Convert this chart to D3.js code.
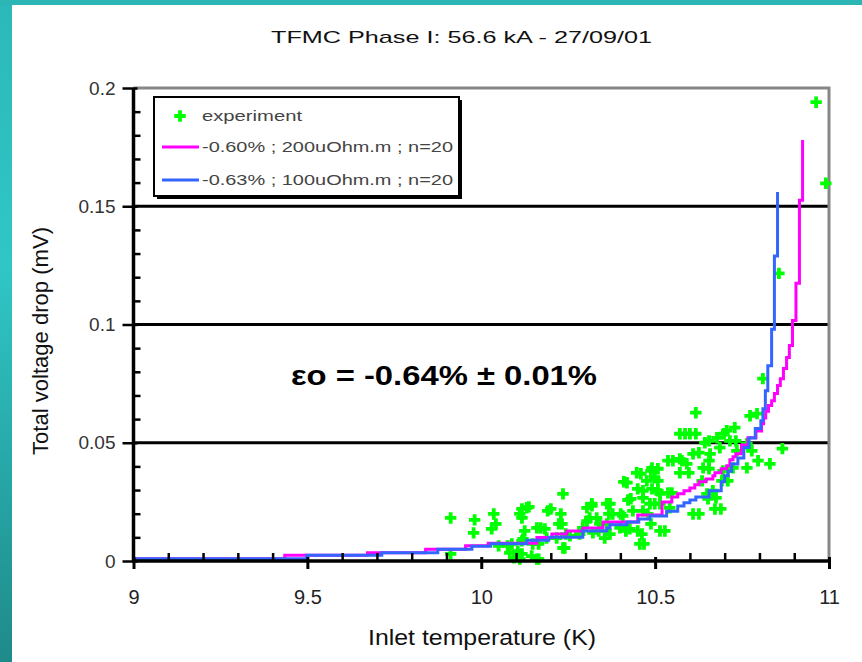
<!DOCTYPE html>
<html>
<head>
<meta charset="utf-8">
<script src="https://cdn.jsdelivr.net/npm/d3@7"></script>
<style>
  body { margin: 0; background: #fff; }
  svg { display: block; }
</style>
</head>
<body>
<div id="chart"></div>
<script>
'use strict';

// measured points: [inlet temperature (K), total voltage drop (mV)]
var experiment = [
    [9.912,0.0182],[9.912,0.003],[9.981,0.0174],[9.978,0.0119],[10.036,0.0199],[10.042,0.0157],
    [10.03,0.0136],[10.05,0.0064],[10.088,0.0072],[10.094,0.0013],[10.117,0.022],[10.137,0.0229],
    [10.117,0.0182],[10.125,0.0127],[10.117,0.0085],[10.117,0.003],[10.145,0.0021],[10.165,0.0008],
    [10.165,0.0072],[10.171,0.014],[10.2,0.022],[10.235,0.0284],[10.229,0.0199],[10.223,0.0157],
    [10.243,0.0114],[10.24,0.0055],[10.255,0.0106],[10.283,0.0114],[10.318,0.0233],[10.332,0.0182],
    [10.338,0.0127],[10.37,0.0242],[10.367,0.0199],[10.361,0.0157],[10.37,0.0114],[10.401,0.0199],
    [10.419,0.0331],[10.43,0.0263],[10.416,0.0127],[10.45,0.0127],[10.459,0.0369],[10.468,0.0072],
    [10.465,0.0297],[10.488,0.0381],[10.508,0.039],[10.508,0.0339],[10.508,0.0297],[10.499,0.0242],
    [10.479,0.0199],[10.488,0.0157],[10.528,0.0127],[10.548,0.0288],[10.551,0.0424],[10.577,0.0424],
    [10.586,0.0538],[10.617,0.0538],[10.617,0.0627],[10.597,0.0373],[10.626,0.0458],[10.626,0.0199],
    [10.655,0.0424],[10.655,0.039],[10.655,0.0508],[10.666,0.0297],[10.675,0.0267],[10.689,0.022],
    [10.698,0.0538],[10.709,0.0381],[10.709,0.0339],[10.729,0.0564],[10.732,0.0508],[10.764,0.0496],
    [10.764,0.0394],[10.778,0.0466],[10.793,0.0623],[10.796,0.0424],[10.83,0.0411],[10.866,0.0475],
    [10.963,0.194],[10.991,0.1597],[10.856,0.1216],[10.81,0.0771],[10.773,0.0614],
    [10.571,0.0538],[10.6,0.0538],[10.609,0.0453],[10.537,0.0424],[10.571,0.0432],[10.591,0.0411],
    [10.571,0.0373],[10.447,0.0373],[10.491,0.0394],[10.499,0.0352],[10.476,0.0339],[10.41,0.0335],
    [10.45,0.0305],[10.491,0.0305],[10.514,0.0284],[10.537,0.0288],[10.465,0.0267],[10.422,0.0258],
    [10.485,0.0242],[10.514,0.0242],[10.542,0.0225],[10.436,0.0212],[10.465,0.0212],[10.378,0.0199],
    [10.407,0.0191],[10.318,0.0242],[10.361,0.0242],[10.312,0.0182],[10.341,0.0157],[10.292,0.014],
    [10.321,0.0119],[10.355,0.0097],[10.399,0.014],[10.427,0.0136],[10.462,0.0114],[10.514,0.0127],
    [10.456,0.0072],[10.609,0.0199],[10.649,0.0284],[10.652,0.0263],[10.672,0.022],[10.635,0.0339],
    [10.638,0.0394],[10.658,0.0453],[10.643,0.05],[10.678,0.0521],[10.686,0.0479],[10.706,0.0551],
    [10.715,0.0508],[10.695,0.0381],[10.692,0.0339],[10.724,0.0394],[10.735,0.0466],
    [10.131,0.0225],[10.111,0.0199],[10.12,0.0093],[10.105,0.0042],[10.111,0.0008],[10.16,0.0008],
    [10.148,0.0072],[10.16,0.014],[10.191,0.0212],[10.232,0.0157],[10.217,0.0097],[10.235,0.0055],
    [10.304,0.0225],[10.304,0.0169],[10.183,0.0136],[10.188,0.0097],[10.082,0.0034],[10.076,0.0064]
];

// model -0.60% ; 200uOhm.m ; n=20 (step levels)
var model60T = [9.0, 9.435, 9.673, 9.84, 9.955, 10.02, 10.16, 10.203, 10.246, 10.292, 10.35, 10.45, 10.52,
    10.548, 10.565, 10.583, 10.6, 10.614, 10.626, 10.646, 10.666, 10.672, 10.69, 10.706, 10.715, 10.724,
    10.732, 10.748, 10.767, 10.79, 10.806, 10.812, 10.818, 10.826, 10.835, 10.843, 10.852, 10.86, 10.869,
    10.878, 10.886, 10.895, 10.905, 10.915, 10.924];
var model60V = [0.001, 0.0024, 0.0035, 0.005, 0.0064, 0.0075, 0.0099, 0.0114, 0.0127, 0.014, 0.0165, 0.0195, 0.025,
    0.0271, 0.0284, 0.0297, 0.0309, 0.0322, 0.0335, 0.0347, 0.036, 0.0373, 0.039, 0.0403, 0.0428, 0.0441,
    0.0453, 0.049, 0.0521, 0.055, 0.058, 0.0605, 0.0633, 0.0657, 0.0678, 0.0708, 0.0742, 0.0771, 0.0814,
    0.086, 0.0911, 0.1017, 0.1174, 0.1525, 0.178];

// model -0.63% ; 100uOhm.m ; n=20 (step levels)
var model63T = [9.0, 9.498, 9.714, 9.875, 9.973, 10.027, 10.131, 10.194, 10.292, 10.361, 10.37, 10.419, 10.453,
    10.485, 10.533, 10.565, 10.583, 10.6, 10.617, 10.655, 10.69, 10.7, 10.71, 10.72, 10.738, 10.755, 10.77,
    10.788, 10.804, 10.81, 10.817, 10.824, 10.835, 10.843, 10.852];
var model63V = [0.001, 0.0024, 0.0035, 0.005, 0.0062, 0.0073, 0.0088, 0.010, 0.0127, 0.014, 0.0153, 0.0165, 0.0178,
    0.019, 0.021, 0.0233, 0.0246, 0.0258, 0.0271, 0.0297, 0.0335, 0.036, 0.038, 0.041, 0.0436, 0.048, 0.052,
    0.056, 0.0593, 0.0644, 0.072, 0.0826, 0.098, 0.129, 0.156];

var xTicks = [9, 9.5, 10, 10.5, 11];
var yTicks = [0, 0.05, 0.1, 0.15, 0.2];
var gridLevels = [0.05, 0.1, 0.15];
var legendLabels = ['experiment', '-0.60% ; 200uOhm.m ; n=20', '-0.63% ; 100uOhm.m ; n=20'];

var FONT = "'Liberation Sans', Arial, sans-serif";

class VoltageChart {

    constructor(options) {
        this.width = options.width;
        this.height = options.height;
        this.svg = d3.select('#' + options.container).append('svg')
            .attr('width', this.width)
            .attr('height', this.height);

        this.x = d3.scaleLinear().domain([9, 11]).range([133.5, 829]);
        this.y = d3.scaleLinear().domain([0, 0.2]).range([561, 88]);
        this.marker = d3.symbol().type(d3.symbolCross).size(72);

        this._drawBackground();
        this._drawGrid();
        this._drawPoints();
        this._drawModel(model60T, model60V, '#ff00ff');
        this._drawModel(model63T, model63V, '#3366ff');
        this._drawAxes();
        this._drawLegend();
        this._drawTexts();
    }

    _drawBackground() {
        var defs = this.svg.append('defs');
        var grad = defs.append('linearGradient')
            .attr('id', 'teal').attr('x1', 0).attr('y1', 0).attr('x2', 0).attr('y2', 1);
        grad.append('stop').attr('offset', '0%').attr('stop-color', '#2cb8b8');
        grad.append('stop').attr('offset', '40%').attr('stop-color', '#30c6c6');
        grad.append('stop').attr('offset', '100%').attr('stop-color', '#1f8a8a');

        this.svg.append('rect').attr('width', this.width).attr('height', this.height).attr('fill', '#fff');
        this.svg.append('rect').attr('x', 0).attr('y', 0).attr('width', 12).attr('height', this.height)
            .attr('fill', 'url(#teal)');
        this.svg.append('rect').attr('x', 0).attr('y', 0).attr('width', this.width).attr('height', 5)
            .attr('fill', '#2cb5b5');
    }

    _drawGrid() {
        //horizontal black grid lines
        this.svg.append('g')
            .selectAll('line')
            .data(gridLevels)
            .enter().append('line')
            .attr('x1', this.x(9)).attr('x2', this.x(11))
            .attr('y1', (d) => this.y(d)).attr('y2', (d) => this.y(d))
            .attr('stroke', '#000')
            .attr('stroke-width', 3);

        //grey frame on top and right
        this.svg.append('path')
            .attr('d', 'M' + this.x(9) + ',' + this.y(0.2) + 'H' + this.x(11) + 'V' + this.y(0))
            .attr('fill', 'none')
            .attr('stroke', '#878787')
            .attr('stroke-width', 3);
    }

    _drawPoints() {
        this.svg.append('g')
            .selectAll('path')
            .data(experiment)
            .enter().append('path')
            .attr('d', this.marker)
            .attr('transform', (d) => 'translate(' + this.x(d[0]) + ',' + this.y(d[1]) + ')')
            .attr('fill', '#00ff00');
    }

    _drawModel(tValues, vValues, color) {
        var line = d3.line()
            .x((d, i) => this.x(tValues[i]))
            .y((d) => this.y(d))
            .curve(d3.curveStepAfter);

        this.svg.append('path')
            .attr('d', line(vValues))
            .attr('fill', 'none')
            .attr('stroke', color)
            .attr('stroke-width', 3);
    }

    _drawAxes() {
        var majorX = xTicks;
        var minorX = d3.range(91, 110).map((d) => d / 10).filter((d) => majorX.indexOf(d) < 0);
        var minorY = d3.range(1, 20).map((d) => d / 100).filter((d) => d % 0.05 > 0.001 && d % 0.05 < 0.049);

        //minor ticks, pointing into the plot
        this.svg.append('g')
            .attr('transform', 'translate(0,' + this.y(0) + ')')
            .call(d3.axisTop(this.x).tickValues(minorX).tickSize(8).tickFormat(''))
            .call((g) => g.select('.domain').remove())
            .selectAll('line').attr('stroke-width', 2.5);

        this.svg.append('g')
            .attr('transform', 'translate(' + this.x(9) + ',0)')
            .call(d3.axisRight(this.y).tickValues(minorY).tickSize(7).tickFormat(''))
            .call((g) => g.select('.domain').remove())
            .selectAll('line').attr('stroke-width', 2.5);

        //major ticks with labels
        var gx = this.svg.append('g')
            .attr('transform', 'translate(0,' + this.y(0) + ')')
            .call(d3.axisBottom(this.x).tickValues(majorX).tickSize(8).tickPadding(21).tickFormat(d3.format('')))
            .call((g) => g.select('.domain').remove());
        gx.selectAll('.tick line').attr('y1', -4).attr('stroke-width', 3);
        gx.selectAll('.tick text')
            .attr('font-family', FONT).attr('font-size', 20).attr('fill', '#222');

        var gy = this.svg.append('g')
            .attr('transform', 'translate(' + this.x(9) + ',0)')
            .call(d3.axisLeft(this.y).tickValues(yTicks).tickSize(11).tickPadding(7).tickFormat(d3.format('')))
            .call((g) => g.select('.domain').remove());
        gy.selectAll('.tick line').attr('x1', 4).attr('stroke-width', 2.5);
        gy.selectAll('.tick text')
            .attr('font-family', FONT).attr('font-size', 19).attr('fill', '#333');

        //axis lines
        this.svg.append('line')
            .attr('x1', this.x(9) - 1.5).attr('x2', this.x(11) + 1.5)
            .attr('y1', this.y(0)).attr('y2', this.y(0))
            .attr('stroke', '#000').attr('stroke-width', 3.5);
        this.svg.append('line')
            .attr('x1', this.x(9)).attr('x2', this.x(9))
            .attr('y1', this.y(0.2)).attr('y2', this.y(0))
            .attr('stroke', '#000').attr('stroke-width', 3.5);
    }

    _drawLegend() {
        var g = this.svg.append('g').attr('transform', 'translate(154,97)');

        //box with a dark drop shadow
        g.append('rect').attr('x', 3).attr('y', 3).attr('width', 305).attr('height', 99).attr('fill', '#000');
        g.append('rect').attr('x', 0).attr('y', 0).attr('width', 305).attr('height', 99)
            .attr('fill', '#fff').attr('stroke', '#000').attr('stroke-width', 2);

        g.append('path')
            .attr('d', this.marker)
            .attr('transform', 'translate(26,19)')
            .attr('fill', '#00ff00');
        g.append('line').attr('x1', 8).attr('x2', 45).attr('y1', 50).attr('y2', 50)
            .attr('stroke', '#ff00ff').attr('stroke-width', 3);
        g.append('line').attr('x1', 8).attr('x2', 45).attr('y1', 83).attr('y2', 83)
            .attr('stroke', '#3366ff').attr('stroke-width', 3);

        var widths = [100, 251, 251];
        var rows = [19, 50, 83];
        g.selectAll('text')
            .data(legendLabels)
            .enter().append('text')
            .attr('x', 48)
            .attr('y', (d, i) => rows[i])
            .attr('dy', '0.36em')
            .attr('textLength', (d, i) => widths[i])
            .attr('lengthAdjust', 'spacingAndGlyphs')
            .attr('font-family', FONT)
            .attr('font-size', 15)
            .attr('fill', '#444')
            .text((d) => d);
    }

    _drawTexts() {
        this.svg.append('text')
            .attr('x', 271).attr('y', 43)
            .attr('textLength', 381).attr('lengthAdjust', 'spacingAndGlyphs')
            .attr('font-family', FONT).attr('font-size', 17).attr('fill', '#111')
            .text('TFMC Phase I: 56.6 kA - 27/09/01');

        this.svg.append('text')
            .attr('x', 368).attr('y', 645)
            .attr('textLength', 228).attr('lengthAdjust', 'spacingAndGlyphs')
            .attr('font-family', FONT).attr('font-size', 22).attr('fill', '#111')
            .text('Inlet temperature (K)');

        this.svg.append('text')
            .attr('transform', 'translate(48,455) rotate(-90)')
            .attr('textLength', 228).attr('lengthAdjust', 'spacingAndGlyphs')
            .attr('font-family', FONT).attr('font-size', 22).attr('fill', '#111')
            .text('Total voltage drop (mV)');

        this.svg.append('text')
            .attr('x', 291).attr('y', 385)
            .attr('textLength', 306).attr('lengthAdjust', 'spacingAndGlyphs')
            .attr('font-family', FONT).attr('font-size', 28).attr('font-weight', 'bold').attr('fill', '#000')
            .text('\u03b5o = -0.64% \u00b1 0.01%');
    }
}

new VoltageChart({ container: 'chart', width: 862, height: 662 });
</script>
</body>
</html>
